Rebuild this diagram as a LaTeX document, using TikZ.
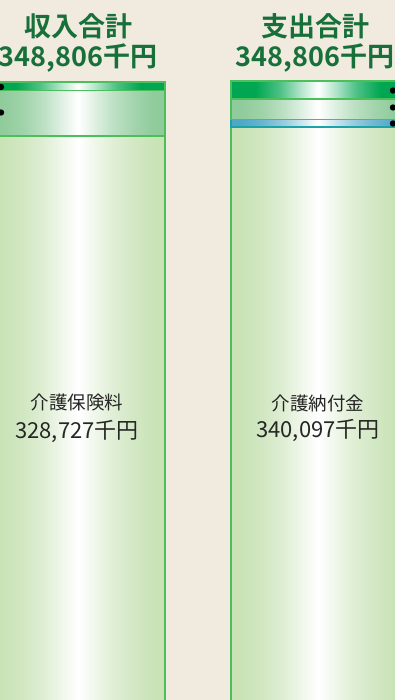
\documentclass[tikz,border=0pt]{standalone}
\usepackage{fontspec}
\setmainfont{Noto Sans CJK JP}
\newfontfamily\jpbold{Noto Sans CJK JP Bold}
\definecolor{bgc}{HTML}{F1EADF}
\definecolor{ttl}{HTML}{17703A}
\definecolor{edgec}{HTML}{4CBF5A}
\definecolor{darkg}{HTML}{00A651}
\definecolor{medg}{HTML}{8FCB9B}
\definecolor{blueb}{HTML}{4FA8C8}
\definecolor{blueedge}{HTML}{1AA3A8}
\definecolor{lightg}{HTML}{C9E3B7}
\pgfdeclarehorizontalshading{lightsh}{100bp}{color(0bp)=(lightg); color(25bp)=(lightg); color(28bp)=(lightg); color(34bp)=(lightg!85!white); color(40bp)=(lightg!60!white); color(45bp)=(lightg!30!white); color(50bp)=(white); color(55bp)=(lightg!30!white); color(60bp)=(lightg!58!white); color(66bp)=(lightg!82!white); color(72bp)=(lightg); color(100bp)=(lightg)}
\pgfdeclarehorizontalshading{darksh}{100bp}{color(0bp)=(darkg); color(25bp)=(darkg); color(32bp)=(darkg); color(39bp)=(darkg!70!white); color(45bp)=(darkg!30!white); color(50bp)=(white); color(55bp)=(darkg!30!white); color(61bp)=(darkg!70!white); color(68bp)=(darkg); color(100bp)=(darkg)}
\pgfdeclarehorizontalshading{medsh}{100bp}{color(0bp)=(medg); color(25bp)=(medg); color(28bp)=(medg); color(34bp)=(medg!85!white); color(40bp)=(medg!60!white); color(45bp)=(medg!30!white); color(50bp)=(white); color(55bp)=(medg!30!white); color(60bp)=(medg!58!white); color(66bp)=(medg!82!white); color(72bp)=(medg); color(100bp)=(medg)}
\pgfdeclarehorizontalshading{bluesh}{100bp}{color(0bp)=(blueb); color(25bp)=(blueb); color(28bp)=(blueb); color(34bp)=(blueb!85!white); color(40bp)=(blueb!60!white); color(45bp)=(blueb!30!white); color(50bp)=(white); color(55bp)=(blueb!30!white); color(60bp)=(blueb!58!white); color(66bp)=(blueb!82!white); color(72bp)=(blueb); color(100bp)=(blueb)}
\begin{document}
\begin{tikzpicture}[x=1pt,y=-1pt,
  band/.style={draw=edgec,line width=1.2pt},
  dot/.style={fill=black,draw=none},
  ttltext/.style={text=ttl,font=\jpbold\fontsize{27}{31}\selectfont,align=center},
  lbl/.style={text=black!85,align=center,inner sep=0pt}]
\useasboundingbox (0,0) rectangle (395,700);
\fill[bgc] (0,0) rectangle (395,700);
\begin{scope}
\clip (0,0) rectangle (395,700);
% left bar
\shade[shading=lightsh,band] (-9,136) rectangle (165,705);
\shade[shading=medsh,band] (-9,90.5) rectangle (165,136);
\shade[shading=darksh,band] (-9,82) rectangle (165,90.5);
% right bar
\shade[shading=lightsh,band] (231,127) rectangle (405,705);
\shade[shading=bluesh,draw=blueedge,line width=1.2pt] (231,119.5) rectangle (405,127);
\shade[shading=medsh,band] (231,99) rectangle (405,119.5);
\shade[shading=darksh,band] (231,81) rectangle (405,99);
% dots
\fill[dot] (1,87) circle (3.2);
\fill[dot] (1,112.5) circle (3.2);
\fill[dot] (393,90.5) circle (3.2);
\fill[dot] (393,107.5) circle (3.2);
\fill[dot] (393,123.5) circle (3.2);
\end{scope}
% titles
\node[ttltext] (t1) at (78,26) {収入合計};
\node[ttltext] (t1n) at (78,58) {348,806千円};
\node[ttltext] (t2) at (315,26) {支出合計};
\node[ttltext] (t2n) at (315,58) {348,806千円};
% labels
\node[lbl,font=\fontsize{18.5}{22}\selectfont] (l1) at (77,403) {介護保険料};
\node[lbl,font=\fontsize{22}{26}\selectfont] (l1n) at (77,431) {328,727千円};
\node[lbl,font=\fontsize{18.5}{22}\selectfont] (r1) at (318,403) {介護納付金};
\node[lbl,font=\fontsize{22}{26}\selectfont] (r1n) at (318,430) {340,097千円};
\end{tikzpicture}
\end{document}
